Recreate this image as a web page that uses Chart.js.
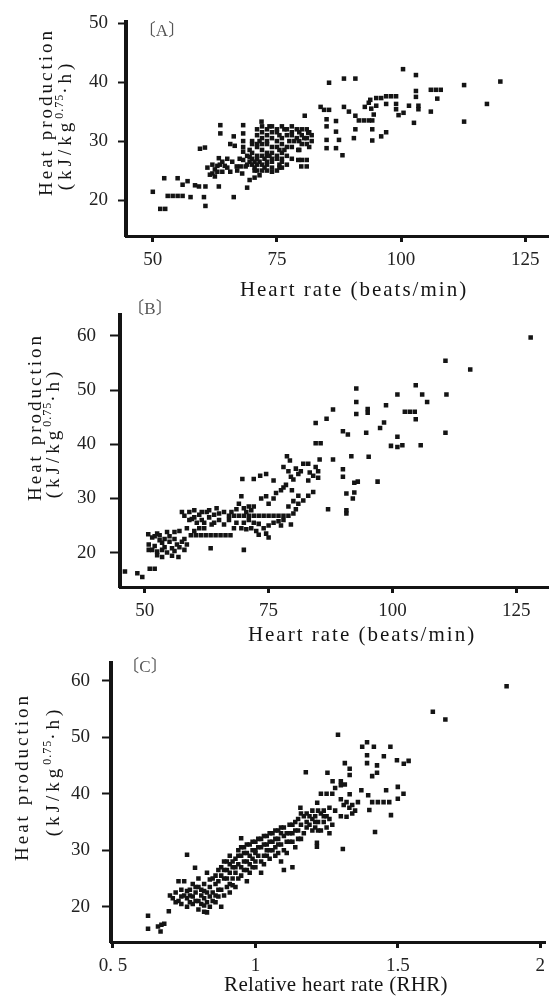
<!DOCTYPE html>
<html lang="en">
<head>
  <meta charset="UTF-8" />
  <title>Heat production vs heart rate</title>
  <script src="https://cdn.jsdelivr.net/npm/chart.js"></script>
  <style>
    html, body { margin: 0; padding: 0; background: #fff; }
    body { width: 552px; height: 1005px; position: relative; overflow: hidden; }
    canvas { position: absolute; left: 0; }
  </style>
</head>
<body>
  <canvas id="chartA" width="552" height="310" style="top:0px"></canvas>
  <canvas id="chartB" width="552" height="360" style="top:290px"></canvas>
  <canvas id="chartC" width="552" height="365" style="top:640px"></canvas>

<script>
// tick values / labels
const hrTicks = [50, 75, 100, 125];
const rhrTicks = [0.5, 1, 1.5, 2];
const rhrTickLabels = ['0. 5', '1', '1.5', '2'];
const heatTicksA = [20, 30, 40, 50];
const heatTicksBC = [20, 30, 40, 50, 60];

// (A) heart rate (beats/min), heat production
const pointsA = [
  [50,21.4],[51.5,18.5],[52.5,18.5],[52.3,23.7],[53,20.7],[54,20.7],[55,20.7],[56,20.7],[55,23.7],[56,22.6],
  [57,23.2],[58.5,22.5],[57.6,20.5],[59.3,22.3],[60.3,20.5],[60.6,19],[60.6,22.3],[59.5,28.7],[60.5,28.9],[63.3,22.3],
  [63.3,27.1],[63.6,32.7],[63.6,31.3],[61,25.5],[62,26],[62.5,25.2],[63,25.8],[64,26.5],[64,24.8],[65,25.5],
  [62,24.5],[63,24.8],[61.5,24.3],[65.6,29.5],[66.5,29.2],[66.3,30.8],[66.3,20.5],[65.6,24.8],[66.9,25.7],[68.2,32.7],
  [68.2,31.3],[68.2,30],[68.2,29],[68.2,28.2],[68.2,26.8],[69.5,27.3],[67.7,25.7],[68.7,25.7],[69,22.1],[69.5,23.4],
  [70.5,23.8],[71.5,24.2],[71.9,33.3],
  [62.5,24],[63.5,26],[64.5,25.8],[65,27],[66,26.5],[67,25],[67.5,27],[68,24.5],[69,26],[69.5,28.5],
  [70.5,25],[71,27],[72,25],[73,27.5],[74,24.8],[75.5,25.5],[76,27],[77,26],[78,27],
  [72,32.5],[73.5,32.5],[74,32.5],[76,32.5],[78,32.5],
  [71,32],[73,32],[75,32],[76.5,32],[77,32],[79,32],[80,32],[81,32],
  [72,31.5],[74,31.5],[75,31.5],[78,31.5],[79.5,31.5],[81.5,31.5],
  [71,31],[73,31],[75.5,31],[77,31],[78,31],[80,31],[82,31],
  [72,30.5],[74,30.5],[76,30.5],[79,30.5],[80.5,30.5],[81,30.5],
  [70,30],[71.5,30],[73,30],[75,30],[77.5,30],[78.5,30],[79.5,30],[82,30],
  [70,29.5],[71,29.5],[72,29.5],[73,29.5],[76,29.5],[80,29.5],[81,29.5],
  [71,29],[74,29],[75,29],[77,29],[78,29],[81.5,29],
  [72,28.5],[75.5,28.5],[76.5,28.5],[79.5,28.5],
  [70,28],[73,28],[74,28],[76,28],
  [69,27.5],[71,27.5],[72,27.5],[73.5,27.5],[75,27.5],[77,27.5],
  [70,27],[72.5,27],[74,27],[75,27],
  [69.5,26.5],[70.5,26.5],[71.5,26.5],[73,26.5],[74,26.5],[76,26.5],
  [70,26],[71,26],[72,26],[73,26],[75.5,26],
  [70.5,25.5],[72.5,25.5],[74,25.5],[76,25.5],
  [71,25],[73,25],[75,25],
  [79.3,26.8],[80,26.8],[81,26.8],[79.9,25.7],[81,25.7],[79.3,28.5],[80.6,34.3],[81.3,31.4],
  [83.8,35.8],[84.5,35.3],[85.5,35.3],[85,33.7],[85,32.5],[85,30.2],[85,28.8],[86.9,33.4],[86.9,31.6],[87.5,30.2],
  [86.9,28.8],[88.2,27.6],[88.5,35.8],[89.5,35],[85.5,39.9],[88.5,40.6],[90.8,40.6],[90.8,34.3],[90.8,32],[91.5,33.5],
  [92.5,33.5],[93.5,33.5],[90.5,30.5],[92.7,35.8],[93.5,36.5],[94,35.5],[94.5,34.5],[95,36],[93.8,37],[94.2,33.5],
  [94.2,32],[94.2,30.1],[95,37.3],[96,37.3],[97,37.6],[98,37.6],[99,37.6],[96,30.8],[97,36.3],[99,36.3],
  [99,35.4],[99.5,34.4],[100.5,34.8],[97,31.5],[100.4,42.2],[103,41.2],[103,38.5],[103,37.5],[101.6,36],[103.5,36],
  [103.5,35.4],[102.6,33.1],[106,38.7],[107,38.7],[108,38.7],[107.3,37.2],[106,35],[112.7,39.5],[112.7,33.3],[117.3,36.3],
  [120,40.1]
];

// (B) heart rate (beats/min), heat production
const pointsB = [
  [46,16.5],[48.5,16.2],[49.5,15.5],[51,17],[52,17],
  [50.7,23.4],[51.5,22.8],[52,23],[52.5,23.5],[53,23.2],[54,22.5],[54.5,23.8],[55,23],[53.5,21.8],[50.8,21.5],
  [50.8,20.5],[51.5,20.5],[52.5,20.2],[53.5,20.5],[54.5,20],[55.5,20.8],[56.5,21.5],[57.5,22],[58,22.5],[56,22.5],
  [55.5,19.4],[56.8,19.2],[58,20.5],[52.5,19.5],[53.5,19.2],[57.5,27.5],[58,26.8],[59,27.5],[59.5,26.2],[60,27.8],
  [60.5,25.5],[61,27],[61.5,26],[62,24.5],[62.5,27.5],[63,26.5],[63.5,25.2],[64,27],[64.5,28.2],[65,26],
  [60,24],[61,24.5],[58.5,24.5],[57,24],[56,23.8],[59.3,23.2],[60.3,23.2],[61.3,23.2],[62.3,23.2],[63.3,23.2],
  [64.3,23.2],[65.3,23.2],[66.3,23.2],[67.3,23.2],[63.3,20.8],[70,20.5],[66,27.5],[67,26],[68,24.5],
  [52,21.2],[53,22.3],[54,21],[55,22],[56,20.3],[57,21],[58.5,21.5],[59,26],[60,26.5],[61.5,27.5],
  [62,25.5],[63,27.8],[64,25.5],[65,27.2],[66,25.2],[67.5,27.5],[68.5,25.5],[70,25.5],[71,26],[72,25.5],
  [73,25.3],
  [67,26.8],[68,26.8],[69,26.8],[70,26.8],[71,26.8],[72,26.8],[73,26.8],[74,26.8],[75,26.8],[76,26.8],
  [77,26.8],[78,26.8],[79,26.8],
  [68.5,28],[69,29],[69.5,30.4],[70,28.2],[70.5,27.5],[71,28.5],[71.5,27.8],[72,28.5],[69.5,24.5],[70.5,24.3],
  [71.5,24.5],[72.5,24],[73,23.3],[74,24.5],[74.5,23.5],[75,25],[76,25.5],[77,25.8],[78,26],[77.5,25],
  [75,22.8],[73.5,30],[74.5,30.4],[75,29],[76,30],[76.5,31],[77.5,31.5],[78,32],[72,33.6],[74.5,34.5],
  [73.3,34.2],[69.7,33.6],[76,33.3],[80,27.2],[79.5,25.2],[80.5,28],[81,29],[82,29.6],[83,30.5],[84,31.2],
  [79,28.5],[80,29.5],[81,30.5],
  [78.7,37.8],[79.3,37],[78,35.8],[79,35],[79.5,34],[80,33.5],[80.5,35.5],[81,34.5],[81.5,35],[82,36.4],
  [83,36.4],[83.3,34.8],[84,34.2],[83,33.3],[84.5,35.8],[85,35],[85,33.8],[79.7,31.5],[78.5,32.5],[84.5,40.2],
  [85.5,40.2],[84.5,43.9],
  [85.3,37.2],[88,37.2],[91.7,37.8],[95.2,37.7],[90,35.4],[90,34],[93,33.1],[92.3,32.9],[97,33.1],[92.3,31.1],
  [90.7,30.9],[92,30],[90.7,27.8],[90.7,27.2],[87,28],[90,42.4],[91,41.8],[94.7,42.1],[86.7,44.7],[88,46.4],
  [92.7,50.3],[92.7,47.8],[92.7,45.6],[95,46.5],[95,45.8],[98.7,47.2],[98.3,44],[97.5,43],[101,49.2],[104.7,50.9],
  [106,49.2],[107,47.8],[110.9,49.2],[102.5,46],[103.5,46],[104.5,46],[104.7,44.6],[101,41.4],[99.7,39.7],[101,39.5],
  [102,39.8],[105.7,39.8],[110.7,42.1],[110.7,55.4],[115.7,53.8],[127.9,59.7]
];

// (C) relative heart rate (RHR), heat production
const pointsC = [
  [0.623,18.4],[0.623,16.1],[0.658,16.5],[0.67,16.8],[0.68,17],[0.667,15.6],[0.696,19.2],
  [0.70,22],[0.71,21.5],[0.72,22.5],[0.73,21],[0.74,23],[0.74,20.5],[0.75,22],[0.75,24.5],[0.76,21.5],[0.76,20],
  [0.77,23],[0.77,22],[0.78,20.5],[0.78,24],[0.79,21],[0.79,22.5],[0.8,19.5],[0.8,23.5],[0.8,25],[0.81,20.5],
  [0.81,22],[0.82,21.5],[0.82,24],[0.83,19],[0.83,22.5],[0.83,26],[0.84,20],[0.84,23.5],[0.85,21],[0.85,25],
  [0.86,22],[0.86,24],[0.87,26.5],[0.87,23],[0.88,20],[0.88,25.5],[0.76,29.2],[0.788,26.9],[0.82,19.1],[0.73,24.5],
  [0.72,20.8],
  [0.74,21.8],[0.76,22.8],[0.77,20.8],[0.78,21.8],[0.79,23.5],[0.8,21],[0.81,23],[0.82,20.2],[0.82,22.8],[0.83,20.8],
  [0.84,21.8],[0.84,24.8],[0.85,22.5],[0.86,20.8],[0.86,25.5],[0.87,21.8],[0.87,24.5],[0.88,23],[0.89,26.5],[0.89,22],
  [0.9,25],[0.9,28],[0.91,24],[0.91,26],[0.92,28],[0.92,23.8],[0.93,27],[0.94,25],[0.94,29],[0.95,27],
  [0.95,30.5],[0.96,26.5],[0.96,29.5],[0.97,28],[0.97,31],[0.98,29],[0.98,26],[0.99,31.5],[0.99,27],[1.0,30],
  [1.0,28],[1.01,29],[1.01,32],[1.02,30.5],[1.02,28],[1.03,32.5],[1.03,27.5],[1.04,31],[1.04,29],[1.05,30],
  [1.05,33],[1.06,31.5],[1.07,30.5],[1.07,33.5],[1.08,32],[1.08,29.5],[1.09,31],[1.09,33],[1.1,34],[1.11,31.5],
  [1.12,33],[1.13,34.5],[1.13,31.5],[1.14,33.5],[1.15,35.5],[1.15,32],[1.16,36.5],[1.18,34],[1.19,36],[1.2,37],
  [1.21,35],[1.22,33.5],[1.24,36],[1.26,37.5],[1.28,37],
  [0.88,27],[0.89,25],[0.89,28],[0.9,26.5],[0.9,23.5],[0.91,27.5],[0.91,29],[0.92,25],[0.92,27],[0.93,28.5],
  [0.93,26],[0.94,30],[0.94,27.5],[0.95,32.1],[0.95,25.5],[0.95,29],[0.96,28],[0.96,30.5],[0.97,26.5],[0.97,29.5],
  [0.98,31],[0.98,27.5],[0.99,30],[0.99,28.5],[1.0,29.5],[1.0,31.5],[1.0,27],[1.01,30.5],[1.02,26],[1.02,32],
  [1.03,29],[1.03,31],[1.04,32.5],[1.04,30],[1.05,28.5],[1.05,31.5],[0.97,24.5],[0.93,23.5],[0.91,22.5],
  [1.06,33],[1.06,30],[1.07,32],[1.07,29],[1.08,33.5],[1.08,31],[1.09,28],[1.09,34],[1.1,32.5],[1.1,30],
  [1.11,33],[1.11,29.5],[1.12,34.5],[1.12,31.5],[1.13,33],[1.14,35],[1.14,30.5],[1.15,33.5],[1.16,34.5],[1.16,32],
  [1.17,36],[1.17,33],[1.18,35],[1.13,27],[1.1,26.5],
  [1.158,37.5],[1.18,36.5],[1.19,34.5],[1.2,35.5],[1.2,33.5],[1.21,36],[1.21,34],[1.22,35],[1.22,37],[1.216,31.3],
  [1.216,30.6],[1.23,36.5],[1.23,33.5],[1.24,35],[1.24,37],[1.25,34],[1.25,36],[1.26,35.5],[1.26,33],[1.27,34.5],
  [1.217,38.4],[1.23,40],[1.25,40],[1.27,40],[1.28,41],
  [1.29,50.4],[1.177,43.8],[1.253,43.7],[1.271,42.2],[1.3,42.2],[1.3,41.5],[1.314,41.6],[1.314,45.4],[1.331,44.4],[1.331,43.3],
  [1.331,39.9],[1.3,39],[1.31,38],[1.32,38.5],[1.33,37.5],[1.34,38],[1.35,37],[1.3,36],[1.32,35.9],[1.34,36.5],
  [1.36,38.5],[1.372,40.6],[1.396,39.7],[1.4,37.1],[1.41,38.5],[1.43,38.5],[1.45,38.5],[1.47,38.5],[1.459,40.6],[1.5,41.2],
  [1.52,40],[1.5,39.1],[1.476,36.2],[1.42,33.2],[1.307,30.2],[1.375,48.3],[1.392,49.1],[1.416,48.3],[1.474,48.3],[1.392,46.8],
  [1.451,46.6],[1.497,45.9],[1.521,45.3],[1.538,45.8],[1.392,45.4],[1.427,45],[1.427,43.7],[1.41,43.1],[1.623,54.5],[1.667,53.1],
  [1.882,59]
];

const yTitle1 = 'Heat production';
const yTitle2 = ['(kJ/kg', '0.75', '·h)'];
const xTitleHR = 'Heart rate (beats/min)';
const xTitleRHR = 'Relative heart rate (RHR)';

const SERIF = '"Liberation Serif", "Times New Roman", serif';
const INK = '#141414';

// draws a run of text segments rotated -90deg, centred on (cx, cy)
function drawRotated(ctx, segs, cx, cy) {
  ctx.save();
  ctx.translate(cx, cy);
  ctx.rotate(-Math.PI / 2);
  ctx.textAlign = 'left';
  ctx.textBaseline = 'middle';
  let total = 0;
  segs.forEach(s => {
    ctx.font = s.font;
    ctx.letterSpacing = s.spacing + 'px';
    s.w = ctx.measureText(s.text).width;
    total += s.w;
  });
  let x = -total / 2;
  segs.forEach(s => {
    ctx.font = s.font;
    ctx.letterSpacing = s.spacing + 'px';
    ctx.fillText(s.text, x, s.dy);
    x += s.w;
  });
  ctx.restore();
}

function panelText(t) {
  return {
    id: 'panelText',
    afterDraw(chart) {
      const ctx = chart.ctx;
      const off = t.top;
      ctx.save();
      ctx.textAlign = 'center';
      ctx.textBaseline = 'middle';

      ctx.fillStyle = '#555';
      ctx.font = '17px ' + SERIF + ', "Noto Sans CJK JP"';
      ctx.fillText(t.label, t.labelPos[0], t.labelPos[1] - off);

      ctx.fillStyle = INK;
      ctx.font = '21px ' + SERIF;
      ctx.letterSpacing = t.xSpacing + 'px';
      ctx.fillText(t.xTitle, t.xPos[0], t.xPos[1] - off);

      drawRotated(ctx, [{ text: yTitle1, font: '19px ' + SERIF, dy: 0, spacing: 3 }],
        t.y1Pos[0], t.y1Pos[1] - off);
      drawRotated(ctx, [
        { text: yTitle2[0], font: '19px ' + SERIF, dy: 0, spacing: 4 },
        { text: yTitle2[1], font: '12px ' + SERIF, dy: -6, spacing: 1 },
        { text: yTitle2[2], font: '19px ' + SERIF, dy: 0, spacing: 4 }
      ], t.y2Pos[0], t.y2Pos[1] - off);
      ctx.restore();
    }
  };
}

function scatterPanel(id, points, o) {
  return new Chart(document.getElementById(id), {
    type: 'scatter',
    data: {
      datasets: [{
        data: points.map(p => ({ x: p[0], y: p[1] })),
        pointStyle: 'rect',
        pointRadius: 3.2,
        pointBackgroundColor: INK,
        pointBorderWidth: 0
      }]
    },
    options: {
      responsive: false,
      animation: false,
      layout: { padding: { top: o.padTop, right: 0, bottom: 0, left: 0 } },
      plugins: { legend: { display: false }, tooltip: { enabled: false } },
      scales: {
        x: {
          type: 'linear',
          min: o.xMin, max: o.xMax,
          afterBuildTicks: s => { s.ticks = o.xTicks.map(v => ({ value: v })); },
          afterFit: s => { s.height = o.xAxisH; },
          grid: { display: true, drawOnChartArea: false, drawTicks: true, tickLength: 6, tickWidth: 3, tickColor: INK },
          border: { display: true, color: INK, width: 3 },
          ticks: {
            font: { family: SERIF, size: 19 }, color: '#222', padding: 7,
            maxRotation: 0, autoSkip: false,
            callback: o.xLabel
          }
        },
        y: {
          min: o.yMin, max: o.yMax,
          afterBuildTicks: s => { s.ticks = o.yTicks.map(v => ({ value: v })); },
          afterFit: s => { s.width = o.yAxisW; },
          grid: { display: true, drawOnChartArea: false, drawTicks: true, tickLength: o.yTickLen, tickWidth: 2, tickColor: INK },
          border: { display: true, color: INK, width: 4 },
          ticks: { font: { family: SERIF, size: 19 }, color: '#222', padding: o.yPad }
        }
      }
    },
    plugins: [panelText(o.text)]
  });
}

scatterPanel('chartA', pointsA, {
  padTop: 22, xAxisH: 74, yAxisW: 126, yTickLen: 8, yPad: 10,
  xMin: 44.6, xMax: 129.6, yMin: 13.9, yMax: 50.2,
  xTicks: hrTicks, yTicks: heatTicksA, xLabel: v => String(v),
  text: { top: 0, label: '〔A〕', labelPos: [162, 32], xTitle: xTitleHR, xPos: [354, 290], xSpacing: 2,
          y1Pos: [47, 112], y2Pos: [66, 125] }
});

scatterPanel('chartB', pointsB, {
  padTop: 5, xAxisH: 63, yAxisW: 120, yTickLen: 10, yPad: 14,
  xMin: 45, xMax: 131.4, yMin: 13.65, yMax: 63.78,
  xTicks: hrTicks, yTicks: heatTicksBC, xLabel: v => String(v),
  text: { top: 290, label: '〔B〕', labelPos: [150, 310], xTitle: xTitleHR, xPos: [362, 635], xSpacing: 2,
          y1Pos: [36, 417], y2Pos: [54, 433] }
});

scatterPanel('chartC', pointsC, {
  padTop: 10, xAxisH: 63, yAxisW: 111, yTickLen: 9, yPad: 12,
  xMin: 0.493, xMax: 2.017, yMin: 13.76, yMax: 63.04,
  xTicks: rhrTicks, yTicks: heatTicksBC, xLabel: v => rhrTickLabels[rhrTicks.indexOf(v)],
  text: { top: 640, label: '〔C〕', labelPos: [145, 668], xTitle: xTitleRHR, xPos: [336, 985], xSpacing: 0.3,
          y1Pos: [23, 777], y2Pos: [54, 771] }
});
</script>
</body>
</html>
